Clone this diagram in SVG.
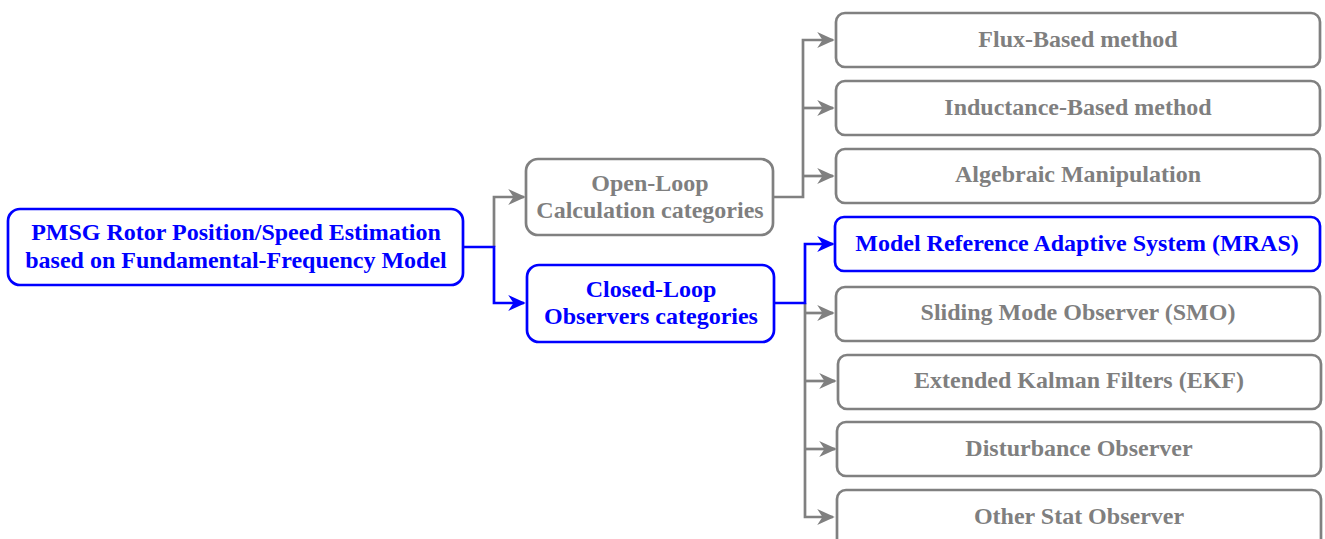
<svg xmlns="http://www.w3.org/2000/svg" width="1325" height="539" viewBox="0 0 1325 539">
  <defs>
    <marker id="arrG" viewBox="0 0 10 10" refX="9" refY="5" markerWidth="6.5" markerHeight="6.5" orient="auto" markerUnits="strokeWidth">
      <path d="M0,0.5 L10,5 L0,9.5 L3,5 Z" fill="#808080"/>
    </marker>
    <marker id="arrB" viewBox="0 0 10 10" refX="9" refY="5" markerWidth="6.5" markerHeight="6.5" orient="auto" markerUnits="strokeWidth">
      <path d="M0,0.5 L10,5 L0,9.5 L3,5 Z" fill="#0000ff"/>
    </marker>
  </defs>
  <style>
    .box { fill: #ffffff; stroke-width: 2.7; }
    .g { stroke: #808080; }
    .b { stroke: #0000ff; }
    text { font-family: "Liberation Serif", "DejaVu Serif", serif; font-weight: bold; font-size: 24px; text-anchor: middle; dominant-baseline: central; }
    .tg { fill: #7f7f7f; }
    .tb { fill: #0000ff; }
    .lg { fill: none; stroke: #808080; stroke-width: 2.7; }
    .lb { fill: none; stroke: #0000ff; stroke-width: 2.7; }
  </style>
  <rect width="1325" height="539" fill="#ffffff"/>

  <g id="connectors">
    <!-- root to categories -->
    <path class="lg" d="M494,247 V197 H524" marker-end="url(#arrG)"/>
    <path class="lb" d="M463,247 H494 V303 H524" marker-end="url(#arrB)"/>
    <!-- open-loop branches -->
    <path class="lg" d="M773,197 H803 V40 H833" marker-end="url(#arrG)"/>
    <path class="lg" d="M803,108 H833" marker-end="url(#arrG)"/>
    <path class="lg" d="M803,176 H833" marker-end="url(#arrG)"/>
    <!-- closed-loop branches -->
    <path class="lg" d="M805,303 V517 H833" marker-end="url(#arrG)"/>
    <path class="lg" d="M805,313 H833" marker-end="url(#arrG)"/>
    <path class="lg" d="M805,381 H835" marker-end="url(#arrG)"/>
    <path class="lg" d="M805,449 H835" marker-end="url(#arrG)"/>
    <path class="lb" d="M774,303 H805 V244 H833" marker-end="url(#arrB)"/>
  </g>

  <g id="root">
    <rect class="box b" x="8" y="209" width="455" height="76" rx="12"/>
    <text class="tb" x="236" y="232">PMSG Rotor Position/Speed Estimation</text>
    <text class="tb" x="236" y="260">based on Fundamental-Frequency Model</text>
  </g>

  <g id="open-loop">
    <rect class="box g" x="526" y="159" width="247" height="76" rx="12"/>
    <text class="tg" x="650" y="183">Open-Loop</text>
    <text class="tg" x="650" y="210">Calculation categories</text>
  </g>

  <g id="closed-loop">
    <rect class="box b" x="527" y="265" width="247" height="77" rx="12"/>
    <text class="tb" x="651" y="289">Closed-Loop</text>
    <text class="tb" x="651" y="316">Observers categories</text>
  </g>

  <g id="flux">
    <rect class="box g" x="836" y="13" width="484" height="54" rx="9"/>
    <text class="tg" x="1078" y="39">Flux-Based method</text>
  </g>
  <g id="inductance">
    <rect class="box g" x="836" y="81" width="484" height="54" rx="9"/>
    <text class="tg" x="1078" y="107">Inductance-Based method</text>
  </g>
  <g id="algebraic">
    <rect class="box g" x="836" y="149" width="484" height="54" rx="9"/>
    <text class="tg" x="1078" y="174">Algebraic Manipulation</text>
  </g>
  <g id="mras">
    <rect class="box b" x="835" y="217" width="485" height="54" rx="9"/>
    <text class="tb" x="1077" y="243">Model Reference Adaptive System (MRAS)</text>
  </g>
  <g id="smo">
    <rect class="box g" x="836" y="287" width="484" height="54" rx="9"/>
    <text class="tg" x="1078" y="312">Sliding Mode Observer (SMO)</text>
  </g>
  <g id="ekf">
    <rect class="box g" x="838" y="355" width="483" height="54" rx="9"/>
    <text class="tg" x="1079" y="380">Extended Kalman Filters (EKF)</text>
  </g>
  <g id="disturbance">
    <rect class="box g" x="837" y="422" width="484" height="54" rx="9"/>
    <text class="tg" x="1079" y="448">Disturbance Observer</text>
  </g>
  <g id="other">
    <rect class="box g" x="837" y="490" width="484" height="60" rx="9"/>
    <text class="tg" x="1079" y="516">Other Stat Observer</text>
  </g>
</svg>
